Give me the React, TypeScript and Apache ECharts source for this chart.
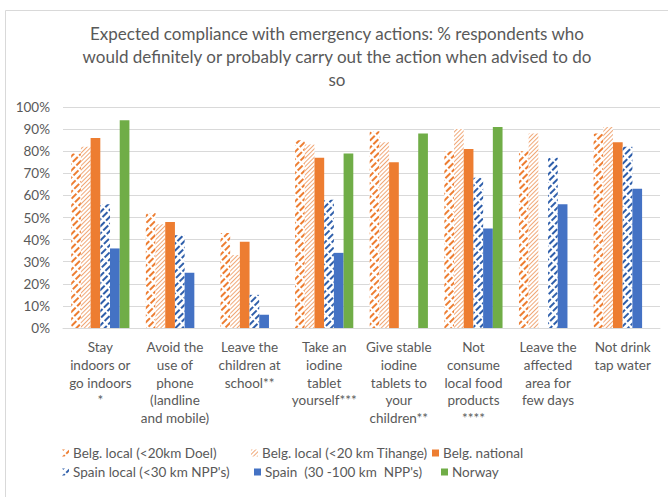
import React, { useEffect, useRef } from "react";
import * as echarts from "echarts";

const titleLines = [
  "Expected compliance with emergency actions: % respondents who",
  "would definitely or probably carry out the action when advised to do",
  "so",
];

const categories = [
  "Stay\nindoors or\ngo indoors\n*",
  "Avoid the\nuse of\nphone\n(landline\nand mobile)",
  "Leave the\nchildren at\nschool**",
  "Take an\niodine\ntablet\nyourself***",
  "Give stable\niodine\ntablets to\nyour\nchildren**",
  "Not\nconsume\nlocal food\nproducts\n****",
  "Leave the\naffected\narea for\nfew days",
  "Not drink\ntap water",
];

const seriesNames = [
  "Belg. local (<20km Doel)",
  "Belg. local (<20 km Tihange)",
  "Belg. national",
  "Spain local (<30 km NPP's)",
  "Spain  (30 -100 km  NPP's)",
  "Norway",
];

const belgDoel = [79, 52, 43, 85, 89, 80, 80, 88];
const belgTihange = [82, 47, 33, 83, 84, 90, 88, 91];
const belgNational = [86, 48, 39, 77, 75, 81, null, 84];
const spainLocal = [56, 42, 15, 58, null, 68, 77, 82];
const spainFar = [36, 25, 6, 34, null, 45, 56, 63];
const norway = [94, null, null, 79, 88, 91, null, null];

const yTicks = [0, 10, 20, 30, 40, 50, 60, 70, 80, 90, 100];

const FONT = "Lato, 'Open Sans', sans-serif";
const TEXT = "#595959";

export default function App() {
  const ref = useRef<HTMLDivElement>(null);

  useEffect(() => {
    if (!ref.current) return;
    const chart = echarts.init(ref.current, undefined, { renderer: "svg" });

    // diagonal "/" hatching drawn as a decal over a white bar
    const stripe = (color: string, thick: number, gap: number, dash: number[]) => ({
      symbol: "rect",
      symbolSize: 1,
      color,
      backgroundColor: "#ffffff",
      dashArrayX: [dash],
      dashArrayY: [thick, gap],
      rotation: -Math.PI / 4,
    });

    const styles = [
      { color: "#ffffff", decal: stripe("#ED7D31", 2, 2.5, [7, 2]) },
      { color: "#ffffff", decal: stripe("#F0A878", 1, 1.5, [1, 0]) },
      { color: "#ED7D31" },
      { color: "#ffffff", decal: stripe("#2E5EAA", 2, 2.5, [7, 2]) },
      { color: "#4472C4" },
      { color: "#70AD47" },
    ];
    const values = [belgDoel, belgTihange, belgNational, spainLocal, spainFar, norway];

    // legend entries, one per series, laid out in two rows
    const legendPos = [
      { left: 62, top: 446 },
      { left: 251, top: 446 },
      { left: 432, top: 446 },
      { left: 62, top: 465 },
      { left: 254, top: 465 },
      { left: 441, top: 465 },
    ];

    chart.setOption({
      animation: false,
      legend: legendPos.map((p, i) => ({
        data: [seriesNames[i]],
        left: p.left,
        top: p.top,
        padding: 0,
        itemWidth: 7,
        itemHeight: 7,
        icon: "rect",
        itemGap: 0,
        textStyle: { fontFamily: FONT, fontSize: 13.5, color: TEXT, padding: [0, 0, 0, -1] },
      })),
      grid: { left: 63, right: 8, top: 107, bottom: 169 },
      xAxis: {
        type: "category",
        data: categories,
        axisLine: { lineStyle: { color: "#D9D9D9", width: 1 } },
        axisTick: { show: false },
        axisLabel: {
          interval: 0,
          margin: 10,
          fontFamily: FONT,
          fontSize: 13.5,
          lineHeight: 17.8,
          color: TEXT,
          align: "center",
        },
      },
      yAxis: {
        type: "value",
        min: 0,
        max: 100,
        interval: 10,
        axisLine: { show: false },
        axisTick: { show: false },
        splitLine: { lineStyle: { color: "#D9D9D9", width: 1 } },
        axisLabel: {
          formatter: (v: number) => (yTicks.includes(v) ? `${v}%` : ""),
          margin: 13,
          fontFamily: FONT,
          fontSize: 13.5,
          color: TEXT,
        },
      },
      graphic: [
        {
          type: "rect",
          shape: { x: 5.5, y: 10.5, width: 800, height: 700 },
          style: { fill: "none", stroke: "#D9D9D9", lineWidth: 1 },
          silent: true,
          z: -10,
        },
        ...titleLines.map((line, i) => ({
          type: "text",
          x: 337,
          y: 33 + i * 23,
          silent: true,
          style: {
            text: line,
            fontFamily: FONT,
            fontSize: 17,
            fill: TEXT,
            textAlign: "center",
            textVerticalAlign: "middle",
          },
        })),
      ],
      series: values.map((d, i) => ({
        name: seriesNames[i],
        type: "bar",
        data: d,
        barGap: "0%",
        barCategoryGap: "22%",
        itemStyle: styles[i],
      })),
    });

    return () => chart.dispose();
  }, []);

  return <div ref={ref} style={{ width: 668, height: 497, position: "absolute", left: 0, top: 0 }} />;
}
